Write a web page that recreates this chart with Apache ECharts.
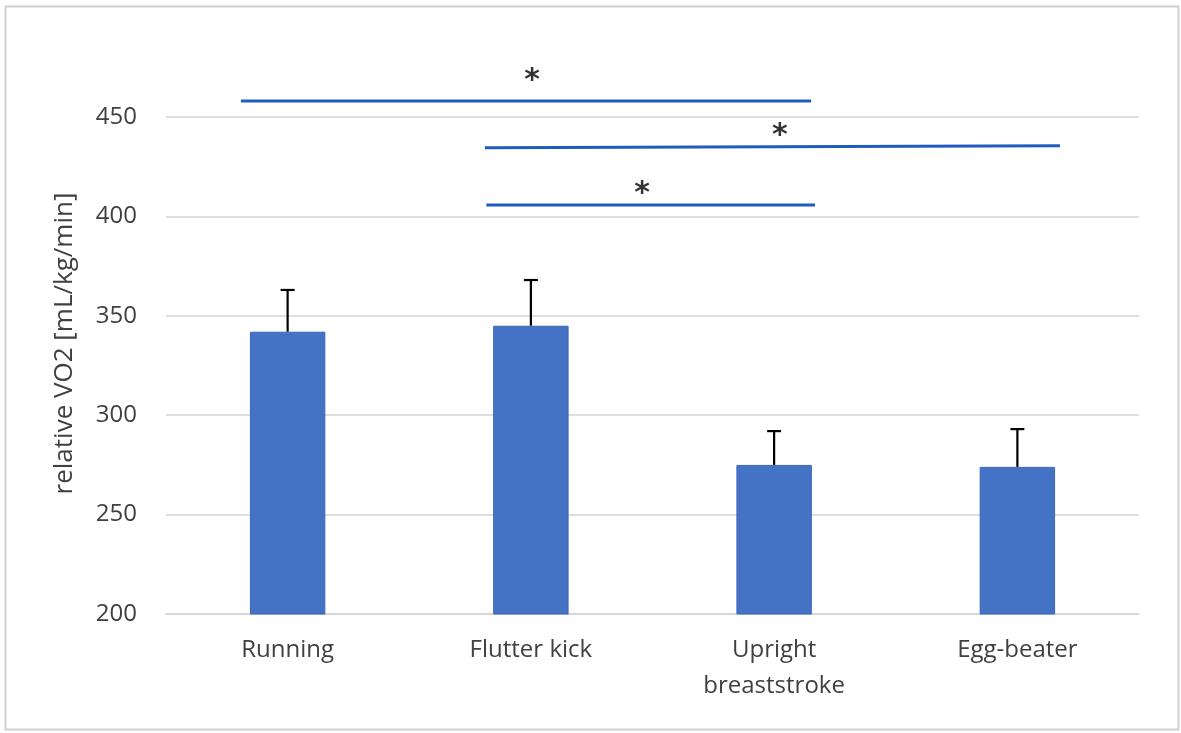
<!DOCTYPE html>
<html>
<head>
<meta charset="utf-8">
<script src="https://cdn.jsdelivr.net/npm/echarts@6/dist/echarts.min.js"></script>
<style>
  html, body { margin: 0; padding: 0; background: #fff; }
  #chart { width: 1181px; height: 733px; }
</style>
</head>
<body>
<div id="chart"></div>
<script>
// data
var categories = ['Running', 'Flutter kick', 'Upright\nbreaststroke', 'Egg-beater'];
var meanValues = [342, 345, 275, 274];
var sdValues = [21, 23, 17, 19];
var yTicks = { min: 200, max: 450, interval: 50 };

// significance bars, x on a 0..4 helper scale (category centres at 0.5, 1.5 ...)
var sigLines = [
  [[0.308, 458], [2.652, 458]],
  [[1.311, 434.5], [3.675, 435.5]],
  [[1.317, 405.7], [2.668, 405.7]]
];
var sigStars = [[1.505, 471.3], [2.524, 444.1], [1.957, 414.9]];

var textColor = '#404040';
var gridColor = '#d3d3d3';

var myChart = echarts.init(document.getElementById('chart'));

var errData = [];
for (var i = 0; i < meanValues.length; i++) {
  errData.push([i, meanValues[i], sdValues[i]]);
}

var series = [
  {
    type: 'bar',
    data: meanValues,
    barWidth: '31%',
    itemStyle: { color: '#4472c4', borderColor: '#3a66b8', borderWidth: 1 },
    z: 2
  },
  {
    type: 'custom',
    data: errData,
    encode: { x: 0, y: 1 },
    z: 3,
    renderItem: function (params, api) {
      var x = api.value(0);
      var top = api.coord([x, api.value(1) + api.value(2)]);
      var base = api.coord([x, api.value(1)]);
      var cap = 7;
      var st = { stroke: '#000', lineWidth: 2.2 };
      return {
        type: 'group',
        children: [
          { type: 'line', shape: { x1: base[0], y1: base[1], x2: top[0], y2: top[1] }, style: st },
          { type: 'line', shape: { x1: top[0] - cap, y1: top[1], x2: top[0] + cap, y2: top[1] }, style: st }
        ]
      };
    }
  }
];

sigLines.forEach(function (seg) {
  series.push({
    type: 'line',
    xAxisIndex: 1,
    data: seg,
    symbol: 'none',
    clip: false,
    silent: true,
    lineStyle: { color: '#1f5cc0', width: 3 },
    z: 4
  });
});

series.push({
  type: 'scatter',
  xAxisIndex: 1,
  data: sigStars,
  symbolSize: 1,
  itemStyle: { color: 'rgba(0,0,0,0)' },
  clip: false,
  silent: true,
  label: {
    show: true,
    position: 'inside',
    formatter: '*',
    color: '#000',
    fontSize: 30,
    fontWeight: 'bold',
    fontFamily: 'DejaVu Sans',
    offset: [0, 7]
  },
  z: 5
});

var option = {
  animation: false,
  backgroundColor: '#fff',
  grid: { left: 166, right: 42, top: 117, bottom: 119 },
  graphic: [
    {
      type: 'rect',
      left: 3, top: 4,
      shape: { width: 1173, height: 723 },
      style: { fill: 'none', stroke: '#d0d0d0', lineWidth: 2 },
      silent: true
    }
  ],
  xAxis: [
    {
      type: 'category',
      data: categories,
      axisLine: { show: true, lineStyle: { color: gridColor, width: 1.5 } },
      axisTick: { show: false },
      axisLabel: {
        color: textColor,
        fontSize: 24,
        lineHeight: 36,
        fontFamily: 'Open Sans',
        margin: 18,
        interval: 0
      }
    },
    {
      type: 'value',
      min: 0,
      max: 4,
      show: false
    }
  ],
  yAxis: {
    type: 'value',
    min: yTicks.min,
    max: yTicks.max,
    interval: yTicks.interval,
    name: 'relative VO2 [mL/kg/min]',
    nameLocation: 'middle',
    nameGap: 88,
    nameTextStyle: {
      color: textColor,
      fontSize: 26,
      fontFamily: 'Open Sans',
      padding: [0, 0, 0, 44]
    },
    axisLine: { show: false },
    axisTick: { show: false },
    axisLabel: { color: textColor, fontSize: 24, fontFamily: 'Open Sans', margin: 29 },
    splitLine: { lineStyle: { color: gridColor, width: 1.5 } }
  },
  series: series
};

myChart.setOption(option);
window.addEventListener('resize', function () {
  myChart.resize();
});
</script>
</body>
</html>
